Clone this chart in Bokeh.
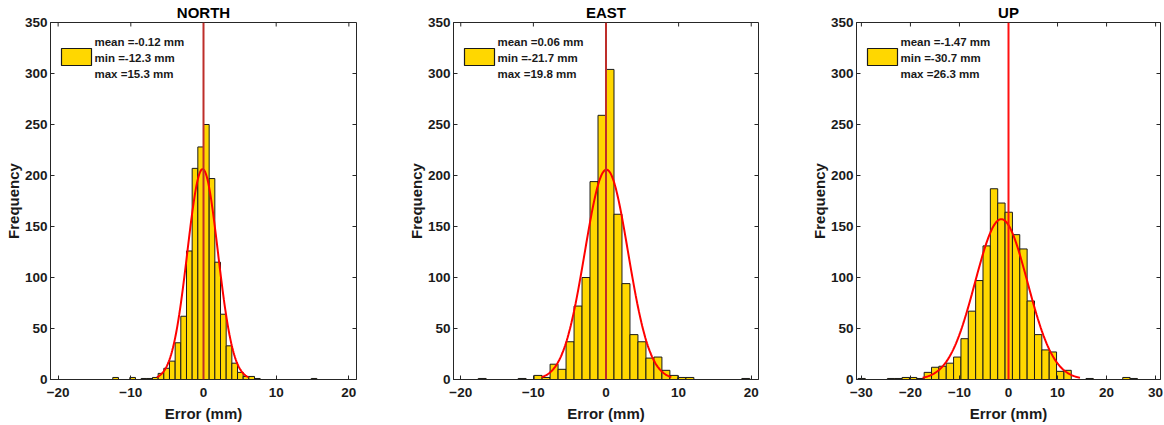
import numpy as np
from bokeh.plotting import figure
from bokeh.layouts import row
from bokeh.models import Range1d, FixedTicker, BoxAnnotation, Label, Span
from bokeh.embed import file_html
from bokeh.resources import INLINE

FONT = "Liberation Sans"

# ---------------- data ----------------
panel_titles = ["NORTH", "EAST", "UP"]

# NORTH: histogram bins (left edge of first bin, bin width, counts)
north_bin_start = -12.48
north_bin_width = 0.78
north_counts = [2, 0, 0, 2, 0, 1, 1, 2, 6, 11, 18, 36, 62, 126, 207, 228, 250, 197,
                115, 64, 33, 16, 7, 3, 3, 1, 0, 0, 0, 0, 0, 0, 0, 0, 0, 1]
north_mean = -0.12
north_sigma = 2.1
north_min = -12.3
north_max = 15.3

# EAST
east_bin_start = -17.6
east_bin_width = 1.1
east_counts = [1, 0, 0, 0, 0, 1, 0, 4, 2, 15, 10, 37, 72, 100, 194, 259, 304, 162,
               94, 44, 37, 21, 22, 9, 4, 2, 2, 0, 0, 0, 0, 0, 0, 1]
east_mean = 0.06
east_sigma = 2.98
east_min = -21.7
east_max = 19.8

# UP
up_bin_start = -30.7
up_bin_width = 1.5
up_counts = [1, 0, 0, 0, 1, 1, 2, 2, 1, 7, 12, 13, 16, 22, 40, 67, 97, 131, 187, 173,
             164, 142, 128, 77, 44, 29, 27, 8, 9, 0, 0, 1, 0, 0, 0, 0, 2, 1]
up_mean = -1.47
up_sigma = 5.35
up_min = -30.7
up_max = 26.3

reference_line_x = 0

x_limits = [(-21.05, 21.05), (-21.0, 21.0), (-31.0, 31.0)]
x_ticks = [[-20, -10, 0, 10, 20], [-20, -10, 0, 10, 20], [-30, -20, -10, 0, 10, 20, 30]]
y_limit = (0, 350)
y_ticks = [0, 50, 100, 150, 200, 250, 300, 350]

x_label = "Error (mm)"
y_label = "Frequency"

# ---------------- styling ----------------
BAR_FILL = "#FFD700"
BAR_EDGE = "#1a1a1a"
AXIS_COL = "#262626"
FIT_COL = "#FF0000"
frame_widths = [306, 305, 304]
right_borders = [47, 48, 4]
vline_colors = ["#BE2E2A", "#BE2E2A", "#FF1010"]
FRAME_H = 357
TICK_LEN = 4


def make_panel(i, title, start, width, counts, mean, sigma, vmin, vmax):
    counts = np.asarray(counts, dtype=float)
    left = start + width * np.arange(len(counts))
    right = left + width
    xlim = x_limits[i]
    fw = frame_widths[i]
    p = figure(frame_width=fw, frame_height=FRAME_H,
               x_range=Range1d(*xlim), y_range=Range1d(*y_limit),
               output_backend="svg", toolbar_location=None,
               min_border_left=50, min_border_right=right_borders[i],
               min_border_top=22, min_border_bottom=46, title=title)
    p.background_fill_color = "white"
    p.border_fill_color = "white"
    p.outline_line_color = AXIS_COL
    p.outline_line_width = 1
    p.xgrid.visible = False
    p.ygrid.visible = False

    # histogram bars
    p.quad(left=left, right=right, bottom=0, top=counts,
           fill_color=BAR_FILL, line_color=BAR_EDGE, line_width=1)

    # normal fit (histfit style, mean +/- 3 sigma)
    n = counts.sum()
    xs = np.linspace(mean - 3 * sigma, mean + 3 * sigma, 161)
    ys = n * width / (sigma * np.sqrt(2 * np.pi)) * np.exp(-0.5 * ((xs - mean) / sigma) ** 2)
    p.line(xs, ys, line_color=FIT_COL, line_width=2)

    # zero reference line
    p.add_layout(Span(location=reference_line_x, dimension="height",
                      line_color=vline_colors[i], line_width=2))

    # box-style ticks on top and right edges
    ppx = fw / (xlim[1] - xlim[0])
    ppy = FRAME_H / (y_limit[1] - y_limit[0])
    xt = np.array(x_ticks[i], dtype=float)
    p.segment(x0=xt, x1=xt, y0=[y_limit[1]] * len(xt), y1=[y_limit[1] - TICK_LEN / ppy] * len(xt),
              line_color=AXIS_COL, line_width=1)
    yt = np.array(y_ticks, dtype=float)
    p.segment(x0=[xlim[1]] * len(yt), x1=[xlim[1] - TICK_LEN / ppx] * len(yt), y0=yt, y1=yt,
              line_color=AXIS_COL, line_width=1)

    # axes
    p.xaxis.ticker = FixedTicker(ticks=x_ticks[i])
    p.yaxis.ticker = FixedTicker(ticks=y_ticks)
    for ax in (p.xaxis[0], p.yaxis[0]):
        ax.major_tick_in = TICK_LEN
        ax.major_tick_out = 0
        ax.minor_tick_line_color = None
        ax.axis_line_color = AXIS_COL
        ax.major_tick_line_color = AXIS_COL
        ax.major_label_text_font = FONT
        ax.major_label_text_font_size = "13.5px"
        ax.major_label_text_font_style = "bold"
        ax.major_label_text_color = "#1a1a1a"
        ax.axis_label_text_font = FONT
        ax.axis_label_text_font_size = "15px"
        ax.axis_label_text_font_style = "bold"
        ax.axis_label_text_color = "#1a1a1a"
    p.yaxis.major_label_standoff = 3
    p.yaxis.axis_label_standoff = 0
    p.xaxis.major_label_standoff = 8
    p.xaxis.axis_label_standoff = 5
    p.xaxis.axis_label = x_label
    p.yaxis.axis_label = y_label

    p.title.text_font = FONT
    p.title.text_font_size = "15px"
    p.title.text_font_style = "bold"
    p.title.text_color = "#000000"
    p.title.align = "center"
    p.title.standoff = 3

    # legend (patch + three lines of statistics)
    p.add_layout(BoxAnnotation(left=11, right=41, bottom=314, top=331,
                               left_units="screen", right_units="screen",
                               bottom_units="screen", top_units="screen",
                               fill_color=BAR_FILL, fill_alpha=1.0,
                               line_color=BAR_EDGE, line_width=1.2, line_alpha=1.0))
    lines = ["mean =%.2f mm" % mean, "min =%.1f mm" % vmin, "max =%.1f mm" % vmax]
    for txt, yy in zip(lines, [338, 322, 306]):
        p.add_layout(Label(x=44, y=yy, x_units="screen", y_units="screen", text=txt,
                           text_font=FONT, text_font_size="11.5px", text_font_style="bold",
                           text_baseline="middle", text_align="left", text_color="#1a1a1a"))
    return p


p1 = make_panel(0, panel_titles[0], north_bin_start, north_bin_width, north_counts,
                north_mean, north_sigma, north_min, north_max)
p2 = make_panel(1, panel_titles[1], east_bin_start, east_bin_width, east_counts,
                east_mean, east_sigma, east_min, east_max)
p3 = make_panel(2, panel_titles[2], up_bin_start, up_bin_width, up_counts,
                up_mean, up_sigma, up_min, up_max)

layout = row(p1, p2, p3, spacing=0)
open("out.html", "w").write(file_html(layout, INLINE))
